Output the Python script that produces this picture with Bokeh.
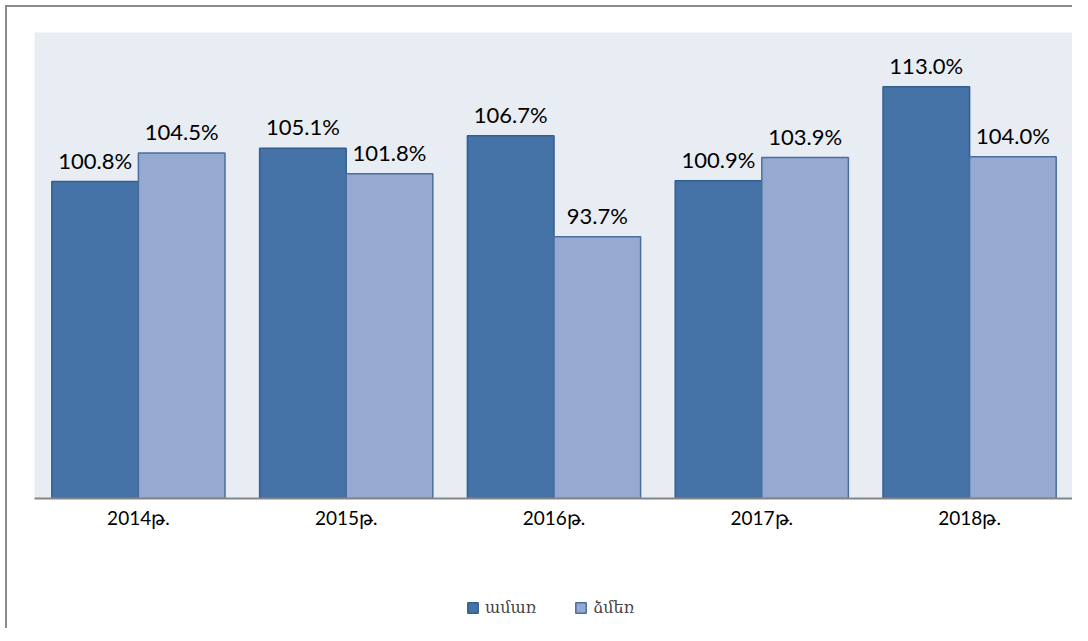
from bokeh.plotting import figure
from bokeh.models import ColumnDataSource, FactorRange, Range1d, Legend, LegendItem, LabelSet
from bokeh.core.properties import value
from bokeh.layouts import column
from bokeh.transform import dodge
from bokeh.embed import file_html
from bokeh.resources import INLINE

years = ["2014թ.", "2015թ.", "2016թ.", "2017թ.", "2018թ."]
summer = [100.8, 105.1, 106.7, 100.9, 113.0]
winter = [104.5, 101.8, 93.7, 103.9, 104.0]
series_names = ["ամառ", "ձմեռ"]

DARK = "#4573A7"
DARK_LINE = "#355E8E"
LIGHT = "#95A9D1"
LIGHT_LINE = "#4A6E9E"

src = ColumnDataSource(dict(
    year=years,
    summer=summer,
    winter=winter,
    summer_lbl=[f"{v:.1f}%" for v in summer],
    winter_lbl=[f"{v:.1f}%" for v in winter],
))

p = figure(width=1067, height=573, x_range=FactorRange(factors=years, range_padding=0),
           y_range=Range1d(60, 120), output_backend="svg", toolbar_location=None,
           min_border_left=27, min_border_right=1, min_border_top=25, min_border_bottom=82)
p.styles = {"border-top": "2px solid #8C8C8C", "border-left": "2px solid #8C8C8C",
            "margin-left": "5px", "margin-top": "5px"}

p.background_fill_color = "#E8ECF3"
p.border_fill_color = "white"
p.outline_line_color = None
p.grid.visible = False
p.yaxis.visible = False

bw = 0.4167
r1 = p.vbar(x=dodge("year", -bw / 2, range=p.x_range), top="summer", bottom=60, width=bw,
            source=src, fill_color=DARK, line_color=DARK_LINE, line_width=1.5)
r2 = p.vbar(x=dodge("year", bw / 2, range=p.x_range), top="winter", bottom=60, width=bw,
            source=src, fill_color=LIGHT, line_color=LIGHT_LINE, line_width=1.5)

for col, lbl, off in [("summer", "summer_lbl", -bw / 2), ("winter", "winter_lbl", bw / 2)]:
    ls = LabelSet(x=dodge("year", off, range=p.x_range), y=col, text=lbl, source=src,
                  text_align="center", text_baseline="bottom", y_offset=8,
                  text_font=value("Lato"), text_font_size=value("22px"), text_color="black")
    p.add_layout(ls)

ax = p.xaxis[0]
ax.axis_line_color = "#868686"
ax.axis_line_width = 2
ax.major_tick_line_color = None
ax.minor_tick_line_color = None
ax.major_label_standoff = 1
ax.major_label_text_font = "Lato"
ax.major_label_text_font_size = "19px"
ax.major_label_text_color = "black"

# legend strip below the chart; its bars are placed outside its visible ranges,
# so only the legend glyphs show
lg = figure(width=1067, height=50, x_range=FactorRange(factors=years, range_padding=0),
            y_range=Range1d(0, 1), output_backend="svg", toolbar_location=None,
            min_border_left=0, min_border_right=0, min_border_top=0, min_border_bottom=0)
lg.styles = {"border-left": "2px solid #8C8C8C", "margin-left": "5px"}
lg.axis.visible = False
lg.grid.visible = False
lg.outline_line_color = None
lg.background_fill_color = "white"
l1 = lg.vbar(x=dodge("year", 50, range=lg.x_range), top="summer", bottom=60, width=0.4,
             source=src, fill_color=DARK, line_color=DARK_LINE, line_width=1.5)
l2 = lg.vbar(x=dodge("year", 50, range=lg.x_range), top="winter", bottom=60, width=0.4,
             source=src, fill_color=LIGHT, line_color=LIGHT_LINE, line_width=1.5)
legend = Legend(items=[LegendItem(label=series_names[0], renderers=[l1]),
                       LegendItem(label=series_names[1], renderers=[l2])],
                orientation="horizontal", location=(432, 11),
                label_text_font="DejaVu Serif", label_text_font_size="16px",
                glyph_width=13, glyph_height=13, spacing=38, label_standoff=6,
                padding=0, margin=0, border_line_color=None, background_fill_alpha=0)
lg.add_layout(legend)

layout = column(p, lg, spacing=0)
open("out.html", "w").write(file_html(layout, INLINE))
